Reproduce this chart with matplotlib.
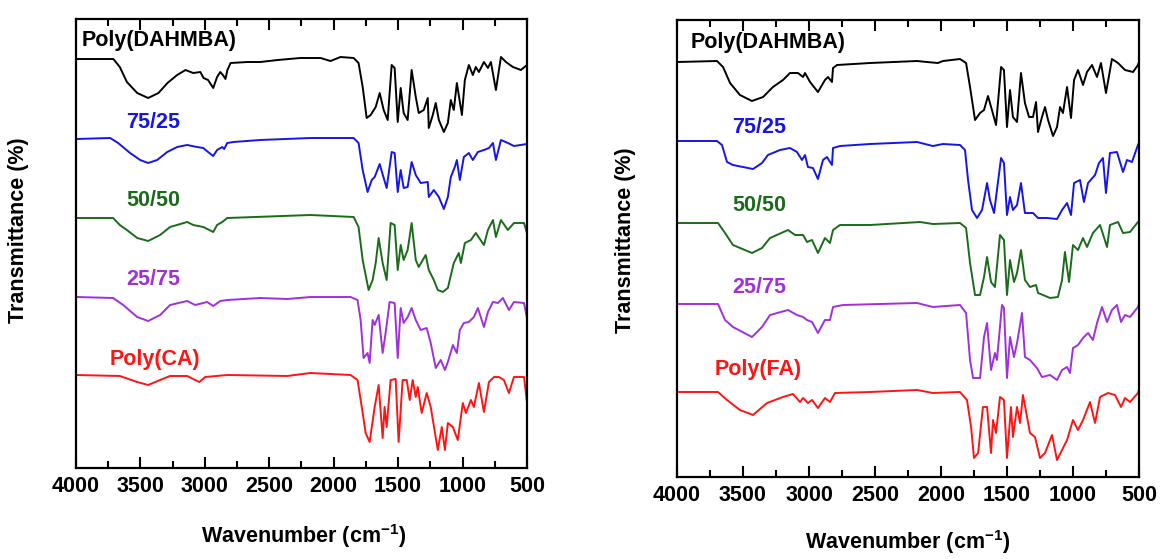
import matplotlib
matplotlib.use("Agg")
import matplotlib.pyplot as plt
from matplotlib.ticker import MultipleLocator

plt.rcParams.update({
    "font.family": ["Liberation Sans", "DejaVu Sans"],
    "font.size": 15.5,
    "font.weight": "bold",
    "mathtext.fontset": "custom",
    "mathtext.rm": "Liberation Sans:bold",
    "mathtext.default": "rm",
    "axes.linewidth": 1.6,
})

BLACK = "#000000"; BLUE = "#1515E6"; GREEN = "#1B6B1B"; PURPLE = "#A030DA"; RED = "#FF1414"

# ---------------- Poly(DAHMBA) / Poly(CA) series ----------------
ca_dahmba_wn = [4000, 3710, 3660, 3605, 3525, 3440, 3360, 3290, 3215, 3150, 3090, 3035, 3010,
                2975, 2935, 2905, 2880, 2860, 2840, 2825, 2800, 2670, 2570, 2435, 2260, 2102,
                2025, 1947, 1845, 1807, 1775, 1744, 1713, 1674, 1643, 1612, 1581, 1550, 1527,
                1503, 1480, 1457, 1426, 1395, 1363, 1340, 1301, 1270, 1262, 1231, 1208, 1184,
                1145, 1114, 1091, 1068, 1044, 1005, 982, 951, 920, 897, 873, 834, 803, 780,
                741, 702, 663, 609, 547, 500]
ca_dahmba_t = [409, 409, 401, 386, 375, 370, 375, 385, 393, 398, 395, 396, 390,
               388, 380, 391, 396, 393, 389, 398, 405, 406, 406, 408, 410, 410,
               407, 411, 410, 405, 381, 350, 353, 361, 375, 358, 348, 403, 400,
               346, 380, 355, 348, 398, 371, 355, 358, 370, 340, 353, 365, 348,
               336, 345, 368, 358, 385, 353, 388, 403, 393, 401, 396, 406, 400, 406,
               378, 411, 406, 401, 398, 403]

ca_7525_wn = [4000, 3735, 3673, 3580, 3502, 3440, 3370, 3292, 3215, 3137, 3060, 3012, 2975,
              2935, 2905, 2865, 2850, 2826, 2778, 2570, 2180, 1845, 1807, 1775, 1737, 1705,
              1682, 1643, 1612, 1589, 1550, 1527, 1503, 1480, 1457, 1426, 1395, 1363, 1325,
              1270, 1262, 1223, 1184, 1145, 1114, 1091, 1060, 1044, 1021, 990, 951, 920,
              881, 834, 795, 764, 741, 702, 648, 601, 500]
ca_7525_t = [329, 330, 325, 315, 308, 305, 308, 316, 321, 323, 321, 320, 316,
             312, 318, 321, 319, 325, 326, 328, 330, 330, 325, 298, 276, 288,
             291, 304, 290, 280, 316, 315, 276, 298, 280, 281, 306, 293, 285,
             286, 271, 278, 271, 259, 271, 291, 301, 308, 288, 311, 315, 308,
             316, 318, 320, 325, 308, 328, 325, 322, 324]

ca_5050_wn = [4000, 3712, 3660, 3605, 3525, 3440, 3347, 3270, 3137, 3090, 3012, 2935, 2905,
              2865, 2826, 2180, 1845, 1807, 1775, 1729, 1698, 1674, 1651, 1620, 1589, 1558,
              1527, 1503, 1480, 1457, 1426, 1395, 1363, 1340, 1286, 1262, 1223, 1192, 1153,
              1114, 1068, 1029, 1013, 982, 935, 897, 834, 803, 764, 741, 702, 648, 601,
              523, 500]
ca_5050_t = [250, 250, 243, 238, 230, 227, 233, 241, 246, 243, 241, 236, 243,
             246, 250, 253, 251, 241, 208, 178, 188, 205, 230, 205, 188, 245,
             243, 198, 223, 208, 218, 245, 208, 201, 213, 198, 188, 178, 176,
             180, 205, 215, 205, 225, 228, 235, 223, 238, 248, 231, 248, 238, 245,
             245, 235]

ca_2575_wn = [4000, 3712, 3634, 3525, 3440, 3347, 3270, 3137, 3075, 2982, 2935, 2880, 2826,
              2570, 2360, 2180, 1869, 1815, 1791, 1768, 1737, 1721, 1698, 1682, 1651, 1620,
              1597, 1566, 1527, 1503, 1480, 1457, 1426, 1395, 1363, 1325, 1278, 1247, 1208,
              1169, 1137, 1114, 1075, 1044, 1021, 990, 951, 912, 881, 834, 803, 764, 725,
              687, 640, 601, 523, 500]
ca_2575_t = [171, 170, 163, 151, 147, 153, 163, 167, 163, 166, 162, 167, 168,
             170, 169, 171, 171, 168, 148, 110, 115, 105, 148, 143, 153, 115,
             135, 166, 165, 110, 160, 145, 151, 160, 148, 138, 140, 125, 100,
             108, 98, 106, 123, 115, 138, 145, 146, 151, 160, 141, 156, 166, 165,
             170, 158, 166, 165, 150]

ca_pure_wn = [4000, 3660, 3525, 3440, 3347, 3270, 3137, 3075, 3043, 2997, 2826, 2360, 2180,
              1869, 1815, 1775, 1752, 1721, 1682, 1651, 1620, 1605, 1589, 1558, 1519, 1496,
              1465, 1433, 1410, 1387, 1363, 1348, 1317, 1278, 1247, 1192, 1161, 1137, 1114,
              1075, 1037, 998, 974, 935, 912, 873, 834, 795, 756, 718, 679, 640, 601, 523, 500]
ca_pure_t = [93, 92, 86, 83, 88, 92, 92, 88, 86, 91, 93, 92, 95,
             93, 88, 55, 35, 26, 61, 83, 30, 61, 41, 88, 89, 26,
             88, 88, 68, 88, 71, 81, 55, 75, 61, 18, 41, 18, 45,
             41, 28, 65, 55, 68, 61, 85, 56, 86, 91, 91, 88, 75, 91, 91, 66]

# ---------------- Poly(DAHMBA) / Poly(FA) series ----------------
fa_dahmba_wn = [4000, 3697, 3651, 3598, 3523, 3432, 3348, 3273, 3197, 3144, 3083, 3045, 3030,
                2992, 2932, 2879, 2856, 2826, 2818, 2788, 2538, 2182, 2106, 2023, 1985, 1856,
                1810, 1780, 1742, 1704, 1674, 1644, 1614, 1583, 1545, 1523, 1500, 1477, 1455,
                1424, 1394, 1364, 1333, 1303, 1280, 1265, 1235, 1212, 1189, 1151, 1121, 1098,
                1076, 1045, 1015, 992, 962, 924, 894, 856, 818, 788, 750, 705, 659, 606, 545,
                508, 500]
fa_dahmba_t = [415, 416, 410, 394, 382, 376, 380, 390, 397, 404, 404, 400, 404,
               395, 385, 397, 400, 395, 409, 412, 414, 416, 415, 414, 416, 418,
               414, 390, 357, 364, 367, 381, 367, 352, 410, 407, 350, 387, 360,
               355, 404, 374, 360, 360, 375, 345, 360, 370, 357, 341, 350, 370,
               364, 390, 359, 397, 407, 392, 405, 412, 400, 414, 384, 418, 414, 407, 405,
               412, 415]

fa_7525_wn = [4000, 3697, 3659, 3621, 3576, 3500, 3424, 3356, 3311, 3220, 3144, 3091, 3053,
              3030, 3008, 2970, 2932, 2894, 2864, 2826, 2818, 2765, 2538, 2182, 2061, 1985,
              1856, 1818, 1795, 1765, 1727, 1689, 1651, 1629, 1598, 1576, 1545, 1523, 1500,
              1477, 1455, 1424, 1394, 1364, 1303, 1265, 1197, 1121, 1083, 1045, 1015, 992,
              947, 917, 886, 833, 803, 773, 750, 720, 667, 621, 591, 553, 508, 500]
fa_7525_t = [336, 336, 332, 315, 312, 310, 308, 314, 322, 327, 329, 325, 317,
             322, 310, 309, 298, 317, 320, 312, 329, 331, 333, 335, 331, 333,
             332, 327, 297, 267, 259, 267, 294, 277, 264, 287, 319, 314, 262,
             280, 267, 272, 294, 264, 264, 259, 259, 258, 267, 274, 262, 294,
             297, 275, 294, 302, 314, 319, 284, 324, 325, 305, 317, 315, 332, 334]

fa_5050_wn = [4000, 3689, 3636, 3576, 3432, 3356, 3295, 3159, 3106, 3045, 3015, 2977, 2932,
              2879, 2841, 2818, 2765, 2538, 2159, 2061, 1856, 1810, 1780, 1742, 1704, 1674,
              1651, 1621, 1591, 1553, 1523, 1500, 1477, 1447, 1424, 1394, 1364, 1326, 1280,
              1265, 1227, 1174, 1114, 1083, 1061, 1030, 1000, 962, 924, 894, 849, 795, 742,
              720, 659, 621, 568, 508, 500]
fa_5050_t = [254, 254, 244, 232, 224, 229, 239, 247, 242, 242, 235, 237, 224,
             239, 234, 247, 252, 252, 255, 253, 254, 249, 214, 182, 182, 200,
             220, 195, 190, 242, 237, 182, 217, 195, 204, 227, 197, 190, 192,
             184, 182, 179, 180, 197, 225, 195, 232, 227, 239, 230, 244, 252, 230,
             252, 255, 244, 245, 255, 255]

fa_2575_wn = [4000, 3689, 3636, 3576, 3432, 3356, 3295, 3159, 3091, 3045, 3015, 2977, 2932,
              2879, 2841, 2818, 2742, 2182, 2061, 1856, 1810, 1780, 1757, 1704, 1674, 1651,
              1621, 1591, 1576, 1538, 1523, 1500, 1477, 1447, 1424, 1386, 1364, 1326, 1273,
              1235, 1174, 1121, 1083, 1045, 1023, 1000, 962, 924, 886, 849, 818, 780, 742,
              705, 667, 636, 606, 568, 508, 500]
fa_2575_t = [173, 173, 157, 150, 140, 150, 162, 167, 162, 160, 157, 155, 144,
             157, 157, 170, 172, 174, 170, 172, 164, 117, 99, 99, 140, 154,
             107, 124, 117, 172, 169, 99, 140, 120, 134, 164, 120, 117, 109,
             100, 102, 97, 107, 110, 104, 129, 132, 139, 144, 137, 154, 170, 155,
             167, 172, 155, 162, 160, 170, 173]

fa_pure_wn = [4000, 3689, 3621, 3523, 3424, 3318, 3197, 3121, 3068, 3045, 3008, 2977, 2932,
              2879, 2841, 2803, 2538, 2182, 2061, 1856, 1803, 1772, 1750, 1719, 1682, 1651,
              1621, 1606, 1583, 1553, 1523, 1500, 1470, 1455, 1424, 1401, 1379, 1348, 1326,
              1288, 1250, 1212, 1159, 1121, 1083, 1045, 1000, 962, 924, 871, 833, 795, 735,
              682, 636, 606, 568, 508, 500]
fa_pure_t = [85, 85, 77, 67, 62, 74, 80, 83, 75, 79, 74, 77, 69,
             79, 75, 84, 85, 87, 84, 85, 77, 50, 19, 24, 70, 70,
             24, 57, 44, 80, 77, 19, 70, 40, 70, 54, 82, 60, 44,
             40, 19, 24, 42, 17, 27, 37, 57, 47, 57, 75, 54, 80, 84,
             82, 70, 79, 75, 84, 87]

ca_series = [("Poly(DAHMBA)", BLACK, ca_dahmba_wn, ca_dahmba_t),
             ("75/25", BLUE, ca_7525_wn, ca_7525_t),
             ("50/50", GREEN, ca_5050_wn, ca_5050_t),
             ("25/75", PURPLE, ca_2575_wn, ca_2575_t),
             ("Poly(CA)", RED, ca_pure_wn, ca_pure_t)]
fa_series = [("Poly(DAHMBA)", BLACK, fa_dahmba_wn, fa_dahmba_t),
             ("75/25", BLUE, fa_7525_wn, fa_7525_t),
             ("50/50", GREEN, fa_5050_wn, fa_5050_t),
             ("25/75", PURPLE, fa_2575_wn, fa_2575_t),
             ("Poly(FA)", RED, fa_pure_wn, fa_pure_t)]

fig = plt.figure(figsize=(11.62, 5.59), dpi=100)
fig.patch.set_facecolor("white")
axL = fig.add_axes([0.0654, 0.1628, 0.3881, 0.8032])
axR = fig.add_axes([0.5826, 0.1467, 0.3976, 0.8175])


def style(ax, ytop):
    ax.set_xlim(4000, 500)
    ax.set_ylim(0, ytop)
    ax.xaxis.set_major_locator(MultipleLocator(500))
    ax.xaxis.set_minor_locator(MultipleLocator(250))
    ax.tick_params(axis="x", which="both", direction="in", top=True, bottom=True,
                   width=1.5, pad=6)
    ax.tick_params(axis="x", which="major", length=8)
    ax.tick_params(axis="x", which="minor", length=5)
    ax.tick_params(axis="y", which="both", left=False, right=False, labelleft=False)
    for lab in ax.get_xticklabels():
        lab.set_fontweight("bold")


# text anchors (wavenumber, height) for the curve names
ca_text = [(3960, 428), (3611, 346), (3611, 268), (3611, 188), (3736, 108)]
fa_text = [(3900, 435), (3583, 350), (3583, 272), (3583, 190), (3712, 107)]

for ax, series, anchors, ytop in [(axL, ca_series, ca_text, 449),
                                  (axR, fa_series, fa_text, 457)]:
    for (name, col, wn, t), (tx, ty) in zip(series, anchors):
        ax.plot(wn, t, color=col, lw=1.4, solid_joinstyle="round")
        ax.text(tx, ty, name, color=col, fontsize=15.5, fontweight="bold",
                ha="left", va="center")
    style(ax, ytop)

fig.text(0.0155, 0.589, "Transmittance (%)", rotation=90, ha="center", va="center",
         fontsize=15.5, fontweight="bold")
fig.text(0.538, 0.571, "Transmittance (%)", rotation=90, ha="center", va="center",
         fontsize=15.5, fontweight="bold")
fig.text(0.261, 0.041, "Wavenumber (cm$^{-1}$)", ha="center", va="center",
         fontsize=15.5, fontweight="bold")
fig.text(0.781, 0.030, "Wavenumber (cm$^{-1}$)", ha="center", va="center",
         fontsize=15.5, fontweight="bold")

fig.savefig("out.png", dpi=100, facecolor="white")
